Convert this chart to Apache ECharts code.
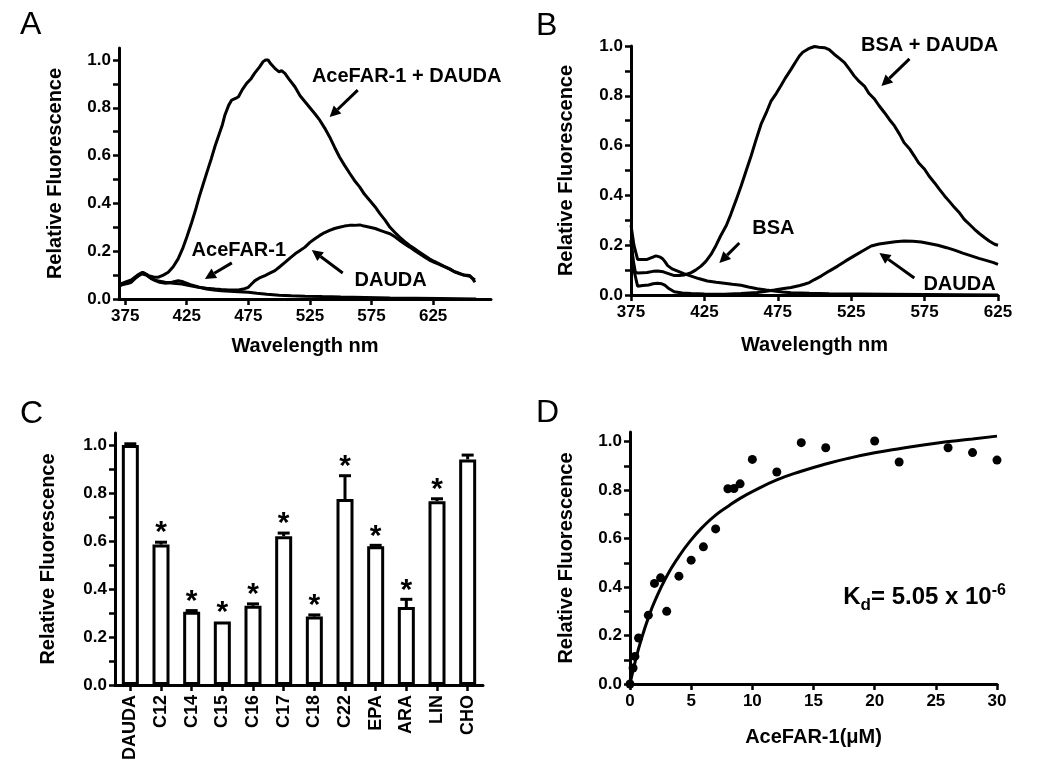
<!DOCTYPE html>
<html><head><meta charset="utf-8">
<script src="https://cdn.jsdelivr.net/npm/echarts@6/dist/echarts.min.js"></script>
<style>html,body{margin:0;padding:0;background:#fff}#c{width:1050px;height:777px}</style>
</head><body><div id="c"></div>
<script>
const FONT = '"Liberation Sans", Arial, Helvetica, sans-serif';

// ---------- Panel A: emission spectra (nm, relative fluorescence) ----------
const aComplex = [[370,0.055],[373,0.06],[377,0.065],[380,0.07],[384,0.09],[388,0.105],[390,0.11],[394,0.098],[398,0.092],[402,0.091],[406,0.1],[410,0.112],[414,0.135],[418,0.168],[422,0.215],[425,0.258],[429,0.32],[432,0.37],[435,0.425],[438.5,0.483],[442,0.54],[445,0.588],[448,0.64],[451,0.685],[454,0.73],[456,0.77],[459,0.81],[461.5,0.832],[465,0.84],[467,0.846],[470,0.875],[473.6,0.902],[477,0.92],[480,0.944],[484,0.97],[487,0.993],[489,1.0],[491,1.0],[493,0.985],[496.5,0.965],[500,0.95],[502,0.955],[504.7,0.944],[508,0.92],[512.8,0.888],[517,0.85],[521,0.825],[525,0.8],[529,0.775],[533,0.748],[537,0.715],[541,0.678],[545,0.635],[549,0.594],[553,0.56],[557.4,0.525],[561,0.497],[565.5,0.468],[569,0.44],[573.6,0.412],[578,0.385],[581.8,0.357],[586,0.33],[590,0.3],[594,0.278],[598,0.258],[602,0.24],[606,0.224],[610,0.21],[614,0.196],[618,0.182],[622,0.168],[626,0.157],[630,0.147],[634,0.137],[638.5,0.126],[642,0.115],[646.6,0.105],[650,0.1],[654.7,0.098],[657,0.085],[659,0.07]];
const aDauda = [[370,0.055],[375,0.065],[380,0.075],[385,0.095],[388.5,0.105],[392,0.1],[396.6,0.084],[402,0.075],[407.4,0.07],[414,0.066],[421,0.063],[428,0.055],[434.5,0.049],[441,0.045],[448,0.042],[453,0.04],[459,0.038],[467,0.038],[472,0.043],[475,0.049],[478,0.065],[480.4,0.077],[484,0.088],[488.5,0.098],[492,0.107],[496.6,0.119],[501,0.137],[505,0.154],[509,0.172],[513,0.189],[517,0.203],[521,0.217],[525,0.237],[529,0.252],[533,0.266],[537,0.278],[541,0.287],[545,0.295],[549,0.3],[553,0.305],[557,0.308],[561,0.308],[565.5,0.31],[569,0.305],[573.6,0.3],[578,0.295],[582,0.287],[586,0.28],[590,0.273],[594,0.26],[598,0.245],[602,0.23],[606,0.217],[610,0.203],[614,0.189],[618,0.176],[622,0.163],[626,0.153],[630,0.145],[634,0.135],[638.5,0.125],[642,0.115],[646.6,0.107],[650,0.1],[654.7,0.095],[659,0.08]];
const aProtein = [[370,0.06],[375,0.07],[380,0.08],[385,0.1],[389,0.112],[393,0.1],[398,0.08],[403,0.07],[408,0.066],[413,0.07],[418,0.077],[422,0.072],[428,0.06],[434.5,0.05],[441,0.042],[447,0.038],[453,0.035],[460,0.032],[467,0.03],[475,0.028],[482,0.024],[490,0.02],[500,0.016],[510,0.014],[521,0.012],[535,0.01],[550,0.008],[570,0.006],[590,0.004],[610,0.003],[630,0.002],[645,0.001],[660,0.0]];

// ---------- Panel B ----------
const bComplex = [[375,0.22],[376.5,0.14],[378,0.09],[380,0.088],[386,0.09],[390,0.095],[393,0.096],[397,0.093],[400,0.087],[404.5,0.078],[408,0.078],[411,0.08],[416,0.09],[419,0.1],[422.7,0.116],[426,0.135],[429.5,0.163],[433,0.2],[436,0.237],[440,0.28],[443,0.324],[446.5,0.38],[450,0.438],[453.5,0.5],[456.8,0.558],[460,0.62],[463.6,0.686],[467,0.73],[470.4,0.779],[474,0.81],[477,0.839],[480,0.87],[484,0.906],[487,0.935],[489.7,0.96],[492,0.975],[495.4,0.987],[497.7,0.993],[500,0.998],[503,0.995],[506.8,0.993],[510,0.985],[513.6,0.966],[517,0.95],[520.4,0.933],[524,0.905],[527,0.88],[530,0.86],[534,0.839],[537,0.81],[541,0.786],[544,0.76],[547.7,0.732],[551,0.705],[554.5,0.679],[558,0.645],[561,0.612],[565,0.585],[568,0.558],[571,0.53],[575,0.505],[578,0.478],[581.7,0.451],[585,0.425],[588.6,0.398],[592,0.375],[595.4,0.351],[599,0.328],[602,0.304],[605.5,0.284],[609,0.264],[612.5,0.246],[616,0.23],[619,0.217],[622.7,0.204],[625,0.2]];
const bBsa = [[375,0.28],[377,0.2],[379.5,0.143],[383,0.143],[386,0.143],[389,0.15],[392,0.157],[395,0.152],[396.5,0.146],[398,0.135],[400,0.118],[403,0.105],[406.8,0.096],[411,0.086],[416,0.076],[421,0.066],[427,0.056],[433,0.051],[438.6,0.047],[444,0.043],[450,0.039],[455,0.032],[461,0.025],[467,0.02],[472.7,0.016],[478,0.012],[484,0.009],[496.5,0.007],[510,0.005],[530,0.004],[550,0.003],[575,0.002],[600,0.001],[625,0.0]];
const bDauda = [[375,0.22],[377,0.1],[379.5,0.035],[383,0.038],[387,0.04],[390,0.045],[393,0.047],[396,0.045],[398,0.04],[401,0.025],[404.5,0.013],[410,0.008],[416,0.006],[425,0.004],[438.6,0.003],[450,0.006],[461,0.01],[466,0.014],[472.7,0.02],[478,0.025],[484,0.03],[490,0.038],[493,0.043],[496.5,0.05],[500,0.062],[504.5,0.076],[510,0.096],[515.8,0.116],[521,0.136],[527,0.157],[533,0.178],[538.6,0.197],[544,0.205],[550,0.21],[555,0.214],[561,0.217],[567,0.216],[572.7,0.213],[578,0.207],[584,0.2],[590,0.19],[595.4,0.18],[601,0.168],[606.8,0.157],[612,0.147],[618,0.137],[622,0.13],[625,0.123]];

// ---------- Panel C ----------
const cCategories = ['DAUDA','C12','C14','C15','C16','C17','C18','C22','EPA','ARA','LIN','CHO'];
const cValues = [1.0,0.585,0.305,0.265,0.33,0.62,0.285,0.775,0.578,0.325,0.766,0.94];
const cErrors = [0.005,0.01,0.005,0.0,0.008,0.013,0.007,0.097,0.004,0.032,0.01,0.018];
const cStars  = [0,1,1,1,1,1,1,1,1,1,1,0];

// ---------- Panel D ----------
const dConc  = [0,0.25,0.4,0.7,1.5,2,2.5,3,4,5,6,7,8,8.5,9,10,12,14,16,20,22,26,28,30];
const dFluor = [0,0.066,0.114,0.19,0.284,0.415,0.438,0.30,0.445,0.511,0.566,0.64,0.806,0.807,0.826,0.927,0.875,0.996,0.975,1.003,0.916,0.975,0.955,0.924];
const dFitX = [0,0.5,1,1.5,2,3,4,5,6,7,8,9,10,12,14,16,18,20,22,25,28,30];
const dFitY = [0,0.108,0.197,0.273,0.339,0.445,0.527,0.595,0.651,0.697,0.733,0.766,0.794,0.842,0.878,0.908,0.933,0.954,0.971,0.994,1.011,1.023];

// ---------- ticks ----------
const yTickVals = [0,0.1,0.2,0.3,0.4,0.5,0.6,0.7,0.8,0.9,1.0];
const yLabelVals = [0,0.2,0.4,0.6,0.8,1.0];
const nmTicks = [375,425,475,525,575,625];
const dTicks = [0,5,10,15,20,25,30];

// ---------- annotations (data coordinates) ----------
const annoA = [
  {text:'AceFAR-1 + DAUDA', at:[603.5,0.929], from:[563.8,0.874], to:[541,0.761]},
  {text:'AceFAR-1', at:[467.3,0.205], from:[461.6,0.151], to:[439.7,0.084]},
  {text:'DAUDA', at:[590.5,0.079], from:[551.6,0.109], to:[526.5,0.205]}
];
const annoB = [
  {text:'BSA + DAUDA', at:[578.4,1.004], from:[564.7,0.948], to:[545.6,0.839]},
  {text:'BSA', at:[472,0.269], from:[448.8,0.209], to:[435.2,0.129]},
  {text:'DAUDA', at:[598.8,0.044], from:[568,0.068], to:[544.2,0.169]}
];
const kdAnchor = [17.43, 0.3236];

const black = '#000';
const tickFont = {fontFamily:FONT, fontWeight:'bold', fontSize:17, color:black};
const nameFont = {fontFamily:FONT, fontWeight:'bold', fontSize:20, color:black};

function yAx(grid, max, gap){
  return {type:'value', gridIndex:grid, min:0, max:max,
    name:'Relative Fluorescence', nameLocation:'middle', nameGap:gap, nameTextStyle:nameFont,
    axisLine:{show:true, lineStyle:{color:black, width:3}},
    axisTick:{show:true, length:6, lineStyle:{color:black, width:2.5}, customValues:yTickVals},
    axisLabel:Object.assign({customValues:yLabelVals, margin:8, formatter:v=>Number(v).toFixed(1)}, tickFont),
    splitLine:{show:false}};
}
function xVal(grid, min, max, ticks, name, gap){
  return {type:'value', gridIndex:grid, min:min, max:max,
    name:name, nameLocation:'middle', nameGap:gap, nameTextStyle:nameFont,
    axisLine:{show:true, onZero:false, lineStyle:{color:black, width:3}},
    axisTick:{show:true, length:6, lineStyle:{color:black, width:2.5}, customValues:ticks},
    axisLabel:Object.assign({customValues:ticks, margin:9}, tickFont),
    splitLine:{show:false}};
}
function lineSeries(xi, yi, data, smooth){
  return {type:'line', xAxisIndex:xi, yAxisIndex:yi, data:data, showSymbol:false, symbol:'none',
    smooth:!!smooth, lineStyle:{color:black, width:3}, animation:false, silent:true};
}

const chart = echarts.init(document.getElementById('c'), null, {renderer:'canvas'});
const option = {
  animation:false,
  backgroundColor:'#fff',
  grid:[
    {left:119, top:48, right:559, bottom:478},
    {left:631, top:46, right:52, bottom:482},
    {left:115, top:433, right:567, bottom:92},
    {left:630, top:432, right:53, bottom:93}
  ],
  xAxis:[
    xVal(0, 370, 672, nmTicks, 'Wavelength nm', 37),
    xVal(1, 375, 625, nmTicks, 'Wavelength nm', 40),
    {type:'category', gridIndex:2, data:cCategories,
      axisLine:{show:true, lineStyle:{color:black, width:3}},
      axisTick:{show:true, alignWithLabel:true, length:6, lineStyle:{color:black, width:2.5}},
      axisLabel:Object.assign({rotate:90, margin:10, interval:0}, tickFont, {fontSize:18}), splitLine:{show:false}},
    xVal(3, 0, 30, dTicks, 'AceFAR-1(\u03bcM)', 43)
  ],
  yAxis:[ yAx(0,1.05,54), yAx(1,1.0,55), yAx(2,1.05,57), yAx(3,1.04,54) ],
  series:[
    lineSeries(0,0,aComplex), lineSeries(0,0,aDauda), lineSeries(0,0,aProtein),
    lineSeries(1,1,bComplex), lineSeries(1,1,bBsa), lineSeries(1,1,bDauda),
    {type:'bar', xAxisIndex:2, yAxisIndex:2, data:cValues, barWidth:17,
      itemStyle:{color:'#fff', borderColor:black, borderWidth:3}, silent:true},
    {type:'custom', xAxisIndex:2, yAxisIndex:2, silent:true,
      data:cCategories.map((c,i)=>[i, cValues[i], cErrors[i], cStars[i]]),
      renderItem:function(params, api){
        const i = api.value(0), v = api.value(1), e = api.value(2), s = api.value(3);
        const base = api.coord([i, v]);
        const top = api.coord([i, v + e]);
        const children = [];
        if (e > 0) {
          children.push({type:'line', shape:{x1:base[0], y1:base[1], x2:top[0], y2:top[1]}, style:{stroke:black, lineWidth:3}});
          children.push({type:'line', shape:{x1:top[0]-6, y1:top[1], x2:top[0]+6, y2:top[1]}, style:{stroke:black, lineWidth:3}});
        }
        if (s) {
          children.push({type:'text', x:top[0], y:top[1]-9, style:{text:'*', font:'bold 30px '+FONT, fill:black, textAlign:'center', textVerticalAlign:'middle'}});
        }
        return {type:'group', children:children};
      }},
    Object.assign(lineSeries(3,3,dFitX.map((x,i)=>[x,dFitY[i]]), true), {z:2}),
    {type:'scatter', xAxisIndex:3, yAxisIndex:3, data:dConc.map((x,i)=>[x,dFluor[i]]), symbol:'circle', symbolSize:9,
      itemStyle:{color:black, opacity:1}, silent:true, z:3}
  ]
};
chart.setOption(option);

function arrowEls(p1, p2){
  const dx=p2[0]-p1[0], dy=p2[1]-p1[1], L=Math.hypot(dx,dy), ux=dx/L, uy=dy/L;
  const hl=11, hw=5.5;
  const b=[p2[0]-ux*hl, p2[1]-uy*hl];
  return [
    {type:'line', shape:{x1:p1[0], y1:p1[1], x2:b[0], y2:b[1]}, style:{stroke:black, lineWidth:3}, silent:true},
    {type:'polygon', shape:{points:[p2,[b[0]-uy*hw,b[1]+ux*hw],[b[0]+uy*hw,b[1]-ux*hw]]}, style:{fill:black}, silent:true}
  ];
}
const graphics = [];
[[annoA,0],[annoB,1]].forEach(([list, g])=>{
  list.forEach(a=>{
    const p = chart.convertToPixel({gridIndex:g}, a.at);
    graphics.push({type:'text', x:p[0], y:p[1], silent:true,
      style:{text:a.text, font:'bold 20px '+FONT, fill:black, textAlign:'center', textVerticalAlign:'middle'}});
    arrowEls(chart.convertToPixel({gridIndex:g}, a.from), chart.convertToPixel({gridIndex:g}, a.to)).forEach(e=>graphics.push(e));
  });
});
// Kd annotation
(function(){
  const p = chart.convertToPixel({gridIndex:3}, kdAnchor); // left, baseline
  const ctx = document.createElement('canvas').getContext('2d');
  const k = 0.3465;
  const parts = [
    {t:'K', fs:24, dy:0},
    {t:'d', fs:17, dy:6},
    {t:'= 5.05 x 10', fs:24, dy:0},
    {t:'-6', fs:16, dy:-9}
  ];
  let x = p[0];
  parts.forEach(pt=>{
    const font = 'bold '+pt.fs+'px '+FONT;
    ctx.font = font;
    const w = ctx.measureText(pt.t).width;
    const baseline = p[1] + pt.dy;
    graphics.push({type:'text', x:x, y:baseline - k*pt.fs, silent:true,
      style:{text:pt.t, font:font, fill:black, textAlign:'left', textVerticalAlign:'middle'}});
    x += w;
  });
})();
// panel letters
[['A',20,25.5],['B',536,26.5],['C',20,414],['D',536,413]].forEach(([t,x,y])=>{
  graphics.push({type:'text', x:x, y:y, silent:true,
    style:{text:t, font:'32px '+FONT, fill:black, textAlign:'left', textVerticalAlign:'middle'}});
});
chart.setOption({graphic:graphics});
</script>
</body></html>
